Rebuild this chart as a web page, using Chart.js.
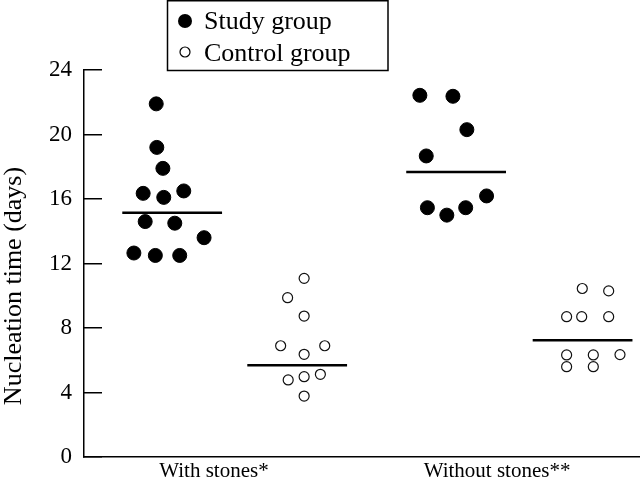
<!DOCTYPE html>
<html>
<head>
<meta charset="utf-8">
<script src="https://cdn.jsdelivr.net/npm/chart.js@4/dist/chart.umd.min.js"></script>
<style>
  html, body { margin: 0; padding: 0; background: #ffffff; }
  canvas { display: block; }
</style>
</head>
<body>
<canvas id="c" width="640" height="484"></canvas>
<script>
// ---- data ----
const categories = ["With stones*", "Without stones**"];
const categoryX = [10, 20];
const categoryLabelX = [9.31, 19.07];
const seriesNames = ["Study group", "Control group"];
const yTicks = [0, 4, 8, 12, 16, 20, 24];
const yTitle = "Nucleation time (days)";

// Study group (filled circles): values and horizontal jitter around each category
const studyWith = [21.9, 19.2, 17.9, 16.35, 16.1, 16.5, 14.6, 14.5, 13.6, 12.65, 12.5, 12.5];
const studyWithJitter = [-2.68, -2.66, -2.45, -3.13, -2.42, -1.73, -3.06, -2.04, -1.03, -3.45, -2.71, -1.87];
const studyWithout = [22.43, 22.37, 20.3, 18.67, 15.46, 15.0, 15.46, 16.19];
const studyWithoutJitter = [-3.59, -2.45, -1.97, -3.37, -3.33, -2.66, -2.01, -1.29];

// Control group (open circles)
const controlWith = [11.08, 9.88, 8.74, 6.9, 6.9, 6.37, 4.78, 4.98, 5.13, 3.78];
const controlWithJitter = [2.42, 1.85, 2.42, 1.61, 3.13, 2.42, 1.87, 2.42, 2.98, 2.42];
const controlWithout = [10.45, 10.3, 8.7, 8.7, 8.7, 6.33, 6.33, 6.35, 5.6, 5.6];
const controlWithoutJitter = [2.01, 2.92, 1.47, 1.99, 2.92, 1.47, 2.39, 3.31, 1.47, 2.39];

// Group means (horizontal bars)
const studyMeans = [15.15, 17.67];
const studyMeanCenter = [-2.13, -2.34];
const controlMeans = [5.69, 7.24];
const controlMeanCenter = [2.18, 2.02];
const meanHalfWidth = 1.72;

// ---- build ----
function pts(vals, jit, cx) { return vals.map((v, i) => ({ x: cx + jit[i], y: v })); }
const studyData = pts(studyWith, studyWithJitter, categoryX[0]).concat(pts(studyWithout, studyWithoutJitter, categoryX[1]));
const controlData = pts(controlWith, controlWithJitter, categoryX[0]).concat(pts(controlWithout, controlWithoutJitter, categoryX[1]));

function meanSeg(mean, center, cx) {
  return [{ x: cx + center - meanHalfWidth, y: mean }, { x: cx + center + meanHalfWidth, y: mean }];
}
const meanSets = [];
for (let i = 0; i < categories.length; i++) {
  meanSets.push(meanSeg(studyMeans[i], studyMeanCenter[i], categoryX[i]));
  meanSets.push(meanSeg(controlMeans[i], controlMeanCenter[i], categoryX[i]));
}

const FONT = "'Liberation Serif', 'Times New Roman', serif";

const decorPlugin = {
  id: 'decor',
  afterDraw(chart) {
    const ctx = chart.ctx;
    ctx.save();
    // legend box
    ctx.strokeStyle = '#000';
    ctx.lineWidth = 1.5;
    ctx.strokeRect(167.5, 0.75, 220.5, 69.75);
    ctx.beginPath();
    ctx.arc(185, 21, 7, 0, Math.PI * 2);
    ctx.fillStyle = '#000';
    ctx.fill();
    ctx.beginPath();
    ctx.arc(185, 52, 5, 0, Math.PI * 2);
    ctx.fillStyle = '#fff';
    ctx.fill();
    ctx.lineWidth = 1.2;
    ctx.stroke();
    ctx.fillStyle = '#000';
    ctx.font = "26px " + FONT;
    ctx.textAlign = 'left';
    ctx.textBaseline = 'alphabetic';
    ctx.fillText(seriesNames[0], 204, 29);
    ctx.fillText(seriesNames[1], 204, 61);
    // y axis title
    ctx.translate(14, 286);
    ctx.rotate(-Math.PI / 2);
    ctx.textAlign = 'center';
    ctx.textBaseline = 'middle';
    ctx.fillText(yTitle, 0, 0);
    ctx.restore();
  }
};

function noPad(scale) {
  scale.paddingTop = 0; scale.paddingBottom = 0; scale.paddingLeft = 0; scale.paddingRight = 0;
}

const datasets = [
  {
    label: seriesNames[0], type: 'scatter', data: studyData,
    pointRadius: 7, pointHoverRadius: 7, pointStyle: 'circle',
    backgroundColor: '#000', borderColor: '#000', borderWidth: 1, order: 0
  },
  {
    label: seriesNames[1], type: 'scatter', data: controlData,
    pointRadius: 5, pointHoverRadius: 5, pointStyle: 'circle',
    backgroundColor: '#fff', borderColor: '#111', borderWidth: 1.2, order: 0
  }
].concat(meanSets.map((d, i) => ({
  label: 'mean' + i, type: 'line', data: d, showLine: true,
  borderColor: '#000', borderWidth: 2.5, pointRadius: 0, fill: false, order: 1
})));

new Chart(document.getElementById('c'), {
  data: { datasets },
  options: {
    responsive: false,
    animation: false,
    events: [],
    layout: { autoPadding: false, padding: { top: 70, left: 0, right: 0, bottom: 0 } },
    plugins: { legend: { display: false }, tooltip: { enabled: false }, title: { display: false } },
    scales: {
      x: {
        type: 'linear', min: 4.83, max: 24,
        afterBuildTicks(scale) { scale.ticks = categoryLabelX.map(v => ({ value: v })); },
        afterFit(scale) { scale.height = 27; noPad(scale); },
        ticks: {
          callback(value) { const i = categoryLabelX.indexOf(value); return i >= 0 ? categories[i] : ''; },
          font: { family: FONT, size: 21 }, color: '#000', padding: 2, maxRotation: 0, autoSkip: false
        },
        grid: { display: false, drawTicks: false },
        border: { display: true, color: '#000', width: 1.5 }
      },
      y: {
        type: 'linear', min: 0, max: 24,
        afterBuildTicks(scale) { scale.ticks = yTicks.map(v => ({ value: v })); },
        afterFit(scale) { scale.width = 84; noPad(scale); },
        ticks: { font: { family: FONT, size: 23 }, color: '#000', padding: 30 },
        grid: { drawOnChartArea: false, drawTicks: true, tickLength: -18, color: '#000', lineWidth: 1.5 },
        border: { display: true, color: '#000', width: 1.5 }
      }
    }
  },
  plugins: [decorPlugin]
});
</script>
</body>
</html>
